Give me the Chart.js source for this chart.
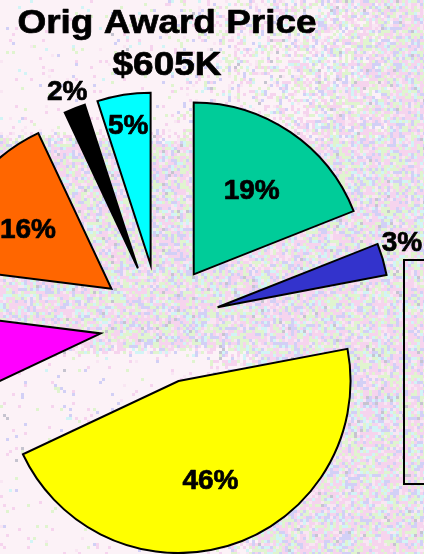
<!DOCTYPE html>
<html>
<head>
<meta charset="utf-8">
<script src="https://cdn.jsdelivr.net/npm/chart.js@4.4.1/dist/chart.umd.min.js"></script>
<style>
  html, body { margin: 0; padding: 0; width: 424px; height: 554px; overflow: hidden; background: #f6e2f2; }
  canvas { display: block; }
</style>
</head>
<body>
<canvas id="awardChart" width="424" height="554"></canvas>
<script>
// data
const categories = ['Item 1', 'Item 2', 'Item 3', 'Item 4', 'Item 5', 'Item 6', 'Item 7'];
const shares = [19, 3, 46, 9, 16, 2, 5];
const sliceColors = ['#00CC99', '#3333CC', '#FFFF00', '#FF00FF', '#FF6600', '#000000', '#00FFFF'];
const titleLines = ['Orig Award Price', '$605K'];

const canvas = document.getElementById('awardChart');

// exploded slices: move every slice out along its middle angle, same radius for all
Chart.ArcElement.prototype.draw = function (ctx) {
  const { x, y, startAngle, endAngle, outerRadius } = this;
  const opts = this.options;
  const mid = (startAngle + endAngle) / 2;
  const cx = x + Math.cos(mid) * (opts.offset || 0);
  const cy = y + Math.sin(mid) * (opts.offset || 0);
  ctx.save();
  ctx.beginPath();
  ctx.moveTo(cx, cy);
  ctx.arc(cx, cy, outerRadius, startAngle, endAngle);
  ctx.closePath();
  ctx.fillStyle = opts.backgroundColor;
  ctx.fill();
  ctx.lineWidth = opts.borderWidth;
  ctx.strokeStyle = opts.borderColor;
  ctx.lineJoin = 'miter';
  ctx.stroke();
  ctx.restore();
};

// speckled slide background
function cellTone(i, j) {
  let h = (Math.imul(i, 374761393) + Math.imul(j, 668265263)) >>> 0;
  h = Math.imul(h ^ (h >>> 13), 1274126177) >>> 0;
  return ((h ^ (h >>> 16)) >>> 0) % 100;
}

function ramp(v, a, b) {
  return Math.min(1, Math.max(0, (b - v) / (b - a)));
}

const backgroundPlugin = {
  id: 'slideBackground',
  beforeDraw(chart) {
    const ctx = chart.ctx;
    const cell = 3;
    for (let j = 0; j * cell < chart.height; j++) {
      for (let i = 0; i * cell < chart.width; i++) {
        const px = i * cell, py = j * cell;
        const top = ramp(px, 150, 400) * ramp(py, 128, 142);
        const bottom = ramp(px, 200, 265) * (1 - ramp(py, 344, 356));
        const w = Math.max(top, bottom);
        const t = cellTone(i, j);
        const t2 = cellTone(j + 911, i + 37);
        let c;
        if (t2 < w * 93) c = '#fcf2f7';
        else if (t < 34) c = '#f6d4ee';
        else if (t < 58) c = '#e0f4cf';
        else if (t < 76) c = '#d2d0f6';
        else if (t < 86) c = '#d2f4f6';
        else if (t < 98) c = '#f9e6f3';
        else c = '#c6c4d0';
        ctx.fillStyle = c;
        ctx.fillRect(px, py, cell, cell);
      }
    }
  }
};

// bold text with a thin outline so it reads as heavy as the original
function heavyText(ctx, text, x, y) {
  ctx.fillText(text, x, y);
  ctx.strokeText(text, x, y);
}

// percent labels, title and the legend frame
const labelPlugin = {
  id: 'sliceLabels',
  afterDraw(chart) {
    const ctx = chart.ctx;
    const meta = chart.getDatasetMeta(0);
    ctx.save();
    ctx.fillStyle = '#000';
    ctx.strokeStyle = '#000';
    ctx.lineWidth = 0.7;
    ctx.lineJoin = 'round';
    ctx.font = 'bold 28px "Liberation Sans", Arial, sans-serif';
    ctx.textAlign = 'center';
    ctx.textBaseline = 'alphabetic';
    meta.data.forEach((arc, i) => {
      const { x, y, startAngle, endAngle, outerRadius } = arc.getProps(['x', 'y', 'startAngle', 'endAngle', 'outerRadius'], true);
      const mid = (startAngle + endAngle) / 2;
      const off = arc.options.offset || 0;
      const v = shares[i];
      let lx, ly;
      if (v < 4) {
        // small slices: label sits just above the outer edge
        lx = x + Math.cos(mid) * (off + outerRadius) + Math.cos(mid) * 20;
        ly = y + Math.sin(mid) * (off + outerRadius) - 18;
      } else {
        const dist = v < 10 ? outerRadius * 0.83 : outerRadius * 0.6;
        lx = x + Math.cos(mid) * (off + dist);
        ly = y + Math.sin(mid) * (off + dist);
      }
      heavyText(ctx, v + '%', lx, ly + 10);
    });

    ctx.font = 'bold 33px "Liberation Sans", Arial, sans-serif';
    titleLines.forEach((line, k) => {
      ctx.save();
      ctx.translate(167, 33 + k * 42);
      ctx.scale(1.12, 1);
      heavyText(ctx, line, 0, 0);
      ctx.restore();
    });

    ctx.lineWidth = 2;
    ctx.lineJoin = 'miter';
    ctx.strokeRect(404, 260, 80, 224);
    ctx.restore();
  }
};

new Chart(canvas, {
  type: 'pie',
  data: {
    labels: categories,
    datasets: [{
      data: shares,
      backgroundColor: sliceColors,
      borderColor: '#000000',
      borderWidth: 2,
      offset: 60,
      radius: 172,
      clip: false,
    }],
  },
  options: {
    responsive: false,
    animation: false,
    events: [],
    radius: 172,
    layout: { padding: { left: 0, right: 104, top: 94, bottom: 0 } },
    plugins: {
      legend: { display: false },
      title: { display: false },
      tooltip: { enabled: false },
    },
  },
  plugins: [backgroundPlugin, labelPlugin],
});
</script>
</body>
</html>
